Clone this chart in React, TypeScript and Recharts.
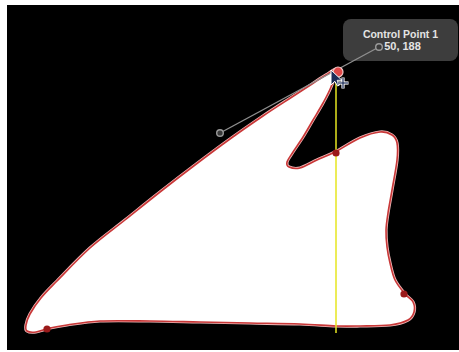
import React from 'react';
import { ComposedChart, XAxis, YAxis, Scatter, ReferenceArea } from 'recharts';

const W = 459;
const H = 352;

// Outline of the shape (canvas coordinates, y grows downward)
const outlineX = [336, 331, 323, 313, 303, 293, 287, 289, 300, 317, 335, 360, 380, 392, 397, 397, 392, 388, 386, 387, 390, 395, 405, 413, 414, 408, 390, 360, 336, 300, 250, 200, 150, 100, 67, 50, 36, 27, 26, 30, 41, 57, 90, 125, 160, 195, 230, 263, 292, 312, 326];
const outlineY = [70, 87, 103, 120, 137, 152, 162, 167, 168, 160, 152, 138, 132, 135, 143, 160, 190, 213, 230, 247, 263, 280, 294, 302, 312, 320, 325, 326, 326, 324, 323, 322, 321, 321, 325, 328, 332, 331, 325, 314, 298, 281, 248, 220, 192, 165, 139, 116, 97, 84, 75];

const anchorX = [338, 336, 404, 47];
const anchorY = [72, 153, 294, 329];
const anchorSelected = [true, false, false, false];

const handleX = [220, 379];
const handleY = [133, 47];

const guideX = [336, 336];
const guideY = [76, 333];

const cursorX = [331];
const cursorY = [70];

const tooltipTitle = 'Control Point 1';
const tooltipValue = '50, 188';

const outlineData = outlineX.map((x, i) => ({ x, y: outlineY[i] }));
const anchorData = anchorX.map((x, i) => ({ x, y: anchorY[i], sel: anchorSelected[i] }));
const handleData = handleX.map((x, i) => ({ x, y: handleY[i] }));
const guideData = guideX.map((x, i) => ({ x, y: guideY[i] }));
const cursorData = cursorX.map((x, i) => ({ x, y: cursorY[i] }));

function closedSpline(pts: { x: number; y: number }[]): string {
  const n = pts.length;
  if (n < 3) return '';
  let d = `M${pts[0].x},${pts[0].y}`;
  for (let i = 0; i < n; i++) {
    const p0 = pts[(i - 1 + n) % n];
    const p1 = pts[i];
    const p2 = pts[(i + 1) % n];
    const p3 = pts[(i + 2) % n];
    const c1x = p1.x + (p2.x - p0.x) / 6;
    const c1y = p1.y + (p2.y - p0.y) / 6;
    const c2x = p2.x - (p3.x - p1.x) / 6;
    const c2y = p2.y - (p3.y - p1.y) / 6;
    d += ` C${c1x},${c1y} ${c2x},${c2y} ${p2.x},${p2.y}`;
  }
  return d + 'Z';
}

const ShapeLine = (props: any) => {
  const pts = (props.points || []) as { x: number; y: number }[];
  const d = closedSpline(pts);
  return (
    <g>
      <path d={d} fill="#ffffff" stroke="#f0b8b8" strokeWidth={3.2} strokeLinejoin="round" />
      <path d={d} fill="#ffffff" stroke="#c83838" strokeWidth={1.6} strokeLinejoin="round" />
    </g>
  );
};

const Empty = () => <g />;

const AnchorShape = (props: any) => {
  const { cx, cy, payload } = props;
  if (payload && payload.sel) {
    return <circle cx={cx} cy={cy} r={5} fill="#e04848" stroke="#f3c8c8" strokeWidth={1.2} />;
  }
  return <circle cx={cx} cy={cy} r={3.6} fill="#9a1a1a" />;
};

const HandleShape = (props: any) => {
  const { cx, cy } = props;
  return <circle cx={cx} cy={cy} r={3.3} fill="#3a3a3a" stroke="#9a9a9a" strokeWidth={1.4} />;
};

const CursorShape = (props: any) => {
  const { cx, cy } = props;
  const arrow = `M${cx},${cy} L${cx},${cy + 15} L${cx + 3.8},${cy + 11.3} L${cx + 6.5},${cy + 16} L${cx + 8.6},${cy + 15} L${cx + 6.2},${cy + 10.3} L${cx + 11},${cy + 10.3} Z`;
  const mx = cx + 12;
  const my = cy + 13;
  return (
    <g>
      <path d={arrow} fill="#1c2c58" stroke="#ffffff" strokeWidth={1} strokeLinejoin="round" />
      <g stroke="#ffffff" strokeWidth={3.2}>
        <line x1={mx - 5.5} y1={my} x2={mx + 5.5} y2={my} />
        <line x1={mx} y1={my - 5.5} x2={mx} y2={my + 5.5} />
      </g>
      <g stroke="#1c2c58" strokeWidth={1.2}>
        <line x1={mx - 5} y1={my} x2={mx + 5} y2={my} />
        <line x1={mx} y1={my - 5} x2={mx} y2={my + 5} />
      </g>
    </g>
  );
};

const TooltipBox = (props: any) => {
  const { x, y, width, height } = props;
  const cx = x + width / 2;
  return (
    <g>
      <rect x={x} y={y} width={width} height={height} rx={8} ry={8} fill="#3d3d3d" />
      <text x={cx} y={y + 19} textAnchor="middle" fill="#e4e4e4" fontFamily="'Liberation Sans', Arial, sans-serif" fontWeight="bold" fontSize={10.5}>
        {tooltipTitle}
      </text>
      <text x={cx + 2} y={y + 31} textAnchor="middle" fill="#e4e4e4" fontFamily="'Liberation Sans', Arial, sans-serif" fontWeight="bold" fontSize={11}>
        {tooltipValue}
      </text>
    </g>
  );
};

export default function App() {
  return (
    <div style={{ position: 'absolute', left: 0, top: 0, width: W, height: H, background: '#ffffff' }}>
      <ComposedChart width={W} height={H} margin={{ top: 0, right: 0, bottom: 0, left: 0 }}>
        <XAxis type="number" dataKey="x" domain={[0, W]} hide allowDataOverflow />
        <YAxis type="number" dataKey="y" domain={[0, H]} reversed hide allowDataOverflow />
        <ReferenceArea x1={7} x2={W} y1={5} y2={350} fill="#000000" fillOpacity={1} stroke="none" ifOverflow="visible" />
        <Scatter data={outlineData} isAnimationActive={false} shape={Empty} line={ShapeLine} lineType="joint" />
        <Scatter data={guideData} isAnimationActive={false} shape={Empty} line={{ stroke: '#e6e620', strokeWidth: 1.5 }} lineType="joint" />
        <ReferenceArea x1={343} x2={458} y1={19} y2={61} shape={TooltipBox} ifOverflow="visible" />
        <Scatter data={handleData} isAnimationActive={false} shape={HandleShape} line={{ stroke: '#8f8f8f', strokeWidth: 1.4 }} lineType="joint" />
        <Scatter data={anchorData} isAnimationActive={false} shape={AnchorShape} />
        <Scatter data={cursorData} isAnimationActive={false} shape={CursorShape} />
      </ComposedChart>
    </div>
  );
}
